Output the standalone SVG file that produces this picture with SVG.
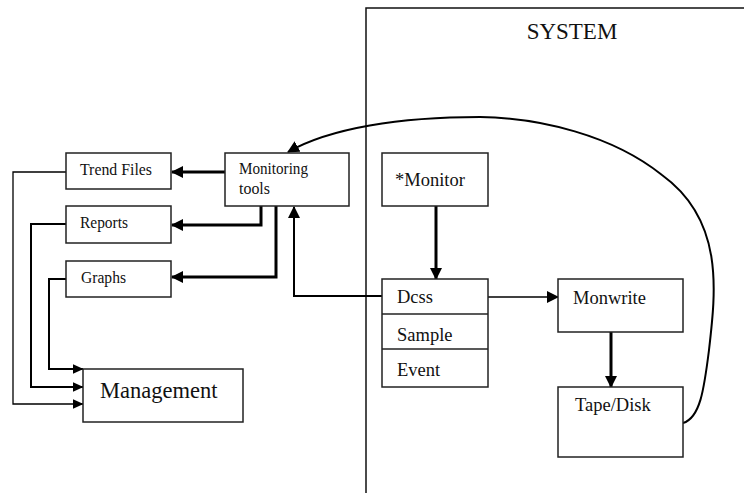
<svg xmlns="http://www.w3.org/2000/svg" width="744" height="493" viewBox="0 0 744 493">
<defs>
<marker id="ah" markerUnits="userSpaceOnUse" markerWidth="12" markerHeight="12" viewBox="0 0 12 12" refX="11" refY="6" orient="auto">
<path d="M0,0 L12,6 L0,12 Z" fill="#000"/>
</marker>
<marker id="ahs" markerUnits="userSpaceOnUse" markerWidth="11" markerHeight="10" viewBox="0 0 11 10" refX="10.5" refY="5" orient="auto">
<path d="M0,0 L11,5 L0,10 Z" fill="#000"/>
</marker>
</defs>
<style>
.box{fill:#fff;stroke:#222;stroke-width:1.5}
.t{font-family:"Liberation Serif","Times New Roman",serif;fill:#111}
.s{font-size:16.5px}
.m{font-size:18.5px}
.thick{fill:none;stroke:#000;stroke-width:3}
.thin{fill:none;stroke:#000;stroke-width:1.3}
.mid{fill:none;stroke:#000;stroke-width:2}
</style>
<rect width="744" height="493" fill="#fff"/>
<g id="system">
<path d="M366,493 L366,8 L744,8" fill="none" stroke="#111" stroke-width="1.5"/>
<text class="t" x="572" y="39" font-size="23" text-anchor="middle">SYSTEM</text>
</g>
<g id="connectors">
<path class="thick" d="M225,172 L172,172" marker-end="url(#ah)"/>
<path class="thick" d="M261,206 L261,225 L172,225" marker-end="url(#ah)"/>
<path class="thick" d="M276,206 L276,277 L172,277" marker-end="url(#ah)"/>
<path class="mid" d="M382,296 L294,296 L294,207" marker-end="url(#ah)"/>
<path class="thin" d="M66,172 L13,172 L13,404 L83,404" marker-end="url(#ahs)"/>
<path class="mid" d="M66,224 L31,224 L31,387 L83,387" marker-end="url(#ahs)"/>
<path class="mid" d="M66,279 L49,279 L49,369 L83,369" marker-end="url(#ahs)"/>
<path class="thick" d="M436,206 L436,279" marker-end="url(#ah)"/>
<path class="thin" d="M488,297 L558,297" marker-end="url(#ah)"/>
<path class="thick" d="M611,332 L611,387" marker-end="url(#ah)"/>
<path class="mid" d="M683,423 C700,418 704,390 709,350 C716,290 724,220 662,175 C612,135 540,118 480,117 C400,117 330,128 288,152" marker-end="url(#ah)"/>
</g>
<g id="trend-files">
<rect class="box" x="66" y="153" width="105" height="36"/>
<text class="t s" x="80" y="175" textLength="72" lengthAdjust="spacingAndGlyphs">Trend Files</text>
</g>
<g id="reports">
<rect class="box" x="66" y="206" width="105" height="37"/>
<text class="t s" x="80" y="228" textLength="48" lengthAdjust="spacingAndGlyphs">Reports</text>
</g>
<g id="graphs">
<rect class="box" x="66" y="261" width="105" height="36"/>
<text class="t s" x="81" y="283" textLength="45" lengthAdjust="spacingAndGlyphs">Graphs</text>
</g>
<g id="monitoring-tools">
<rect class="box" x="225" y="153" width="124" height="53"/>
<text class="t s" x="239" y="174" textLength="69" lengthAdjust="spacingAndGlyphs">Monitoring</text>
<text class="t s" x="239" y="194" textLength="31" lengthAdjust="spacingAndGlyphs">tools</text>
</g>
<g id="management">
<rect class="box" x="83" y="369" width="160" height="53"/>
<text class="t" x="100" y="398" font-size="22.5">Management</text>
</g>
<g id="monitor">
<rect class="box" x="382" y="153" width="106" height="53"/>
<text class="t m" x="395" y="186">*Monitor</text>
</g>
<g id="dcss">
<rect class="box" x="382" y="279" width="106" height="108"/>
<line x1="382" y1="314" x2="488" y2="314" stroke="#222" stroke-width="1.5"/>
<line x1="382" y1="349" x2="488" y2="349" stroke="#222" stroke-width="1.5"/>
<text class="t m" x="397" y="303">Dcss</text>
<text class="t m" x="397" y="341">Sample</text>
<text class="t m" x="397" y="376">Event</text>
</g>
<g id="monwrite">
<rect class="box" x="558" y="279" width="125" height="53"/>
<text class="t m" x="573" y="304">Monwrite</text>
</g>
<g id="tape-disk">
<rect class="box" x="558" y="387" width="125" height="70"/>
<text class="t m" x="575" y="411">Tape/Disk</text>
</g>
</svg>
